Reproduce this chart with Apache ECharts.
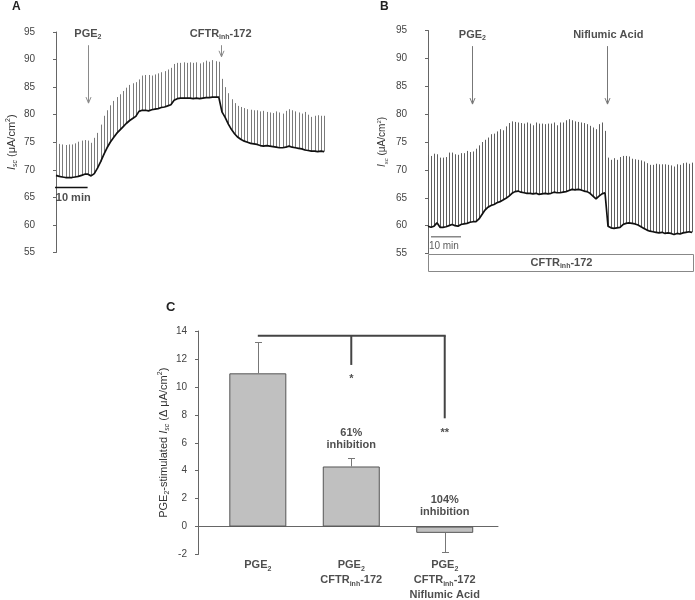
<!DOCTYPE html>
<html><head><meta charset="utf-8">
<script src="https://cdn.jsdelivr.net/npm/echarts@6/dist/echarts.min.js"></script>
<style>html,body{margin:0;padding:0;background:#fff}#c{width:695px;height:600px}</style>
</head><body><div id="c"></div>
<script>
// ---------- DATA ----------
// Panel A: Isc trace (uA/cm2), one entry per 1-min pulse
const baseA = [69.0, 68.8, 68.7, 68.6, 68.6, 68.6, 68.7, 68.8, 69.0, 69.2,
  69.2, 68.9, 69.3, 70.3, 71.5, 72.8, 74.0, 75.0, 75.8, 76.6,
  77.2, 77.8, 78.4, 78.9, 79.3, 79.7, 80.6, 80.8, 80.8, 80.7,
  80.9, 81.0, 81.1, 81.3, 81.4, 81.6, 81.8, 82.6, 82.9, 83.0,
  83.0, 83.0, 83.0, 82.9, 83.0, 82.9, 83.0, 83.1, 83.1, 83.2,
  83.2, 83.2, 80.5, 79.5, 78.3, 77.3, 76.5, 75.9, 75.5, 75.2,
  75.0, 74.8, 74.7, 74.6, 74.4, 74.3, 74.4, 74.3, 74.2, 74.1,
  74.0, 74.0, 74.1, 74.3, 74.1, 74.0, 73.9, 73.8, 73.6, 73.5,
  73.4, 73.4, 73.3, 73.4, 73.3];
const topsA = [75.0, 74.7, 74.6, 74.5, 74.6, 74.6, 74.8, 75.1, 75.3, 75.4,
  75.3, 74.9, 75.8, 76.7, 78.2, 79.8, 80.8, 81.7, 82.5, 83.2,
  83.7, 84.3, 84.9, 85.4, 85.7, 85.9, 86.4, 87.1, 87.2, 87.2,
  87.1, 87.3, 87.5, 87.7, 87.9, 88.2, 88.5, 89.2, 89.4, 89.4,
  89.5, 89.4, 89.5, 89.4, 89.5, 89.3, 89.5, 89.8, 89.6, 89.9,
  89.7, 89.6, 86.5, 85.0, 83.9, 82.8, 82.1, 81.6, 81.4, 81.2,
  81.0, 80.9, 80.8, 80.8, 80.6, 80.7, 80.5, 80.4, 80.3, 80.6,
  80.4, 80.2, 80.7, 81.0, 80.8, 80.6, 80.4, 80.2, 80.5, 80.0,
  79.6, 79.8, 79.9, 79.8, 79.8];
// Panel B
const baseB = [59.9, 59.7, 59.9, 60.5, 59.7, 59.7, 59.8, 60.0, 60.2, 60.0,
  59.9, 60.2, 60.3, 60.4, 60.6, 60.7, 60.7, 61.2, 62.0, 62.8,
  63.3, 63.6, 63.8, 64.1, 64.3, 64.6, 64.9, 65.3, 65.8, 66.1,
  66.2, 66.0, 65.9, 65.8, 65.8, 65.7, 65.8, 65.6, 65.7, 65.8,
  65.7, 65.8, 66.0, 65.9, 65.9, 66.0, 66.1, 66.3, 66.5, 66.4,
  66.5, 66.4, 66.2, 66.1, 65.8, 65.3, 64.8, 65.3, 65.7, 65.9,
  59.9, 59.6, 59.5, 59.6, 59.7, 60.2, 60.4, 60.5, 60.4, 60.3,
  60.1, 59.8, 59.5, 59.2, 59.0, 58.9, 58.8, 58.7, 58.8, 58.6,
  58.7, 58.6, 58.4, 58.6, 58.5, 58.7, 58.8, 58.9, 58.8];
const topsB = [72.7, 72.5, 72.9, 72.8, 72.2, 72.2, 72.3, 73.1, 73.1, 72.8,
  72.7, 73.0, 73.0, 73.4, 73.2, 73.3, 73.8, 74.4, 75.0, 75.4,
  75.8, 76.4, 76.5, 76.9, 77.3, 77.1, 77.8, 78.4, 78.7, 78.6,
  78.5, 78.4, 78.3, 78.5, 78.3, 78.0, 78.5, 78.3, 78.3, 78.2,
  78.3, 78.3, 78.5, 78.0, 78.5, 78.5, 78.9, 79.1, 78.9, 78.7,
  78.6, 78.5, 78.4, 78.2, 77.9, 77.6, 77.3, 78.2, 78.5, 77.0,
  72.2, 71.8, 72.1, 71.8, 72.3, 72.5, 72.5, 72.4, 72.0, 71.9,
  71.8, 71.7, 71.5, 71.2, 70.9, 70.9, 71.1, 71.0, 71.0, 71.0,
  70.9, 70.8, 70.6, 71.0, 70.9, 71.2, 71.3, 71.1, 71.3];
const yMinAB = 55, yMaxAB = 95, yStepAB = 5;
// Panel C
const categoriesC = ['{b|PGE}{s|2}',
  '{b|PGE}{s|2}\n{b|CFTR}{s|inh}{b|-172}',
  '{b|PGE}{s|2}\n{b|CFTR}{s|inh}{b|-172}\n{b|Niflumic Acid}'];
const meansC = [10.97, 4.3, -0.45];
const errorsC = [2.26, 0.58, 1.37];
const inhibitionC = [null, '61%', '104%'];
const starsC = [null, '*', '**'];
const yMinC = -2, yMaxC = 14, yStepC = 2;

// ---------- STYLE ----------
const FF = '"Liberation Sans", Arial, Helvetica, sans-serif';
const TXT = '#222';
const richBold = {
  b: {fontFamily: FF, fontSize: 11, fontWeight: 'bold', color: TXT, lineHeight: 14},
  s: {fontFamily: FF, fontSize: 7, fontWeight: 'bold', color: TXT, lineHeight: 8, verticalAlign: 'bottom'}
};
const richCat = {
  b: {fontFamily: FF, fontSize: 11, fontWeight: 'bold', color: TXT, lineHeight: 15},
  s: {fontFamily: FF, fontSize: 7, fontWeight: 'bold', color: TXT, lineHeight: 9, verticalAlign: 'bottom'}
};
const richInh = {
  b: {fontFamily: FF, fontSize: 11, fontWeight: 'bold', color: TXT, lineHeight: 12}
};
function richName(fs) {
  return {
    n: {fontFamily: FF, fontSize: fs, color: '#333', lineHeight: fs + 3},
    i: {fontFamily: FF, fontSize: fs, color: '#333', fontStyle: 'italic', lineHeight: fs + 3},
    sub: {fontFamily: FF, fontSize: fs - 4, color: '#333', fontStyle: 'italic', lineHeight: fs - 3, verticalAlign: 'bottom'},
    subn: {fontFamily: FF, fontSize: fs - 4, color: '#333', lineHeight: fs - 3, verticalAlign: 'bottom'},
    sup: {fontFamily: FF, fontSize: fs - 4, color: '#333', lineHeight: fs - 3, verticalAlign: 'top'}
  };
}

function spikeSeries(idx, base, tops, color) {
  return {
    type: 'custom', xAxisIndex: idx, yAxisIndex: idx, z: 2, silent: true,
    data: tops.map((v, i) => [i, base[i], v]),
    renderItem: (p, api) => {
      const a = api.coord([api.value(0), api.value(1)]);
      const b = api.coord([api.value(0), api.value(2)]);
      const x = Math.round(a[0]) + 0.5;
      return {type: 'line', shape: {x1: x, y1: a[1], x2: x, y2: b[1]}, style: {stroke: color, lineWidth: 1}};
    }
  };
}
function baseSeries(idx, base) {
  return {
    type: 'line', xAxisIndex: idx, yAxisIndex: idx, z: 3, silent: true,
    data: base.map((v, i) => [i, v]), symbol: 'none',
    lineStyle: {color: '#111', width: 1.7}
  };
}
function arrowSeries(idx, items, color) {
  return {
    type: 'custom', xAxisIndex: idx, yAxisIndex: idx, z: 4, silent: true, clip: false,
    data: items,
    renderItem: (p, api) => {
      const a = api.coord([api.value(0), api.value(1)]);
      const b = api.coord([api.value(0), api.value(2)]);
      const x = Math.round(a[0]) + 0.5;
      return {type: 'group', children: [
        {type: 'line', shape: {x1: x, y1: a[1], x2: x, y2: b[1]}, style: {stroke: color, lineWidth: 1}},
        {type: 'polyline', shape: {points: [[x - 2.5, b[1] - 6], [x, b[1]], [x + 2.5, b[1] - 6]]}, style: {stroke: color, lineWidth: 1, fill: null}}
      ]};
    }
  };
}
function hlineSeries(idx, items, color, w) {
  return {
    type: 'custom', xAxisIndex: idx, yAxisIndex: idx, z: 4, silent: true, clip: false,
    data: items,
    renderItem: (p, api) => {
      const a = api.coord([api.value(0), api.value(2)]);
      const b = api.coord([api.value(1), api.value(2)]);
      return {type: 'line', shape: {x1: a[0], y1: a[1], x2: b[0], y2: b[1]}, style: {stroke: color, lineWidth: w}};
    }
  };
}
function textSeries(idx, items, rich) {
  return {
    type: 'scatter', xAxisIndex: idx, yAxisIndex: idx, z: 6, silent: true, clip: false,
    symbolSize: 0, itemStyle: {color: 'transparent'},
    data: items.map(it => ({
      value: [it.x, it.y],
      label: {show: true, position: it.pos || 'inside', distance: it.dist || 0,
        formatter: it.text, rich: it.rich || rich, color: TXT, fontFamily: FF, align: 'center'}
    }))
  };
}
function yAxisAB(idx, name, fs, gap) {
  return {
    gridIndex: idx, type: 'value', min: yMinAB, max: yMaxAB, interval: yStepAB,
    axisLine: {show: true, lineStyle: {color: '#666', width: 1}},
    axisTick: {show: true, length: 3, lineStyle: {color: '#666'}},
    axisLabel: {fontSize: 10, color: '#444', margin: 6, fontFamily: FF},
    splitLine: {show: false},
    name: name, nameLocation: 'middle', nameGap: gap, nameRotate: 90,
    nameTextStyle: {rich: richName(fs)}
  };
}
const hiddenX = (idx, min, max) => ({gridIndex: idx, type: 'value', min: min, max: max,
  axisLine: {show: false}, axisTick: {show: false}, axisLabel: {show: false}, splitLine: {show: false}});

const catX = meansC.map((v, i) => i + 1);

const option = {
  animation: false,
  backgroundColor: '#fff',
  title: [
    {text: 'A', left: 12, top: 1, padding: 0, textStyle: {fontSize: 12, fontWeight: 'bold', color: TXT, fontFamily: FF}},
    {text: 'B', left: 380, top: 1, padding: 0, textStyle: {fontSize: 12, fontWeight: 'bold', color: TXT, fontFamily: FF}},
    {text: 'C', left: 166, top: 301, padding: 0, textStyle: {fontSize: 13, fontWeight: 'bold', color: TXT, fontFamily: FF}}
  ],
  grid: [
    {left: 41, top: 32, width: 300, height: 220.5},
    {left: 413, top: 30.5, width: 282, height: 223},
    {left: 198, top: 331, width: 300, height: 223.5}
  ],
  xAxis: [
    hiddenX(0, -4.7, 89.3),
    hiddenX(1, -5, 89),
    {gridIndex: 2, type: 'value', min: 0.36, max: 3.57,
      axisLine: {show: true, onZero: true, lineStyle: {color: '#666', width: 1}},
      axisTick: {show: false}, axisLabel: {show: false}, splitLine: {show: false}}
  ],
  yAxis: [
    yAxisAB(0, '{i|I}{sub|sc}{n| (μA/cm}{sup|2}{n|)}', 11, 22),
    yAxisAB(1, '{i|I}{sub|sc}{n| (μA/cm}{sup|2}{n|)}', 10, 24),
    {gridIndex: 2, type: 'value', min: yMinC, max: yMaxC, interval: yStepC,
      axisLine: {show: true, onZero: false, lineStyle: {color: '#666', width: 1}},
      axisTick: {show: true, length: 3, lineStyle: {color: '#666'}},
      axisLabel: {fontSize: 10, color: '#444', margin: 11, fontFamily: FF},
      splitLine: {show: false},
      name: '{n|PGE}{subn|2}{n|-stimulated }{i|I}{sub|sc}{n| (Δ μA/cm}{sup|2}{n|)}',
      nameLocation: 'middle', nameGap: 27, nameRotate: 90,
      nameTextStyle: {rich: richName(11)}}
  ],
  series: [
    spikeSeries(0, baseA, topsA, '#7a7a7a'),
    baseSeries(0, baseA),
    spikeSeries(1, baseB, topsB, '#5e5e5e'),
    baseSeries(1, baseB),
    arrowSeries(0, [[10.0, 92.6, 82.1], [51.7, 92.6, 90.5]], '#8a8a8a'),
    arrowSeries(1, [[14.7, 92.2, 81.8], [59.7, 92.2, 81.8]], '#777'),
    textSeries(0, [
      {x: 10.0, y: 94.7, text: '{b|PGE}{s|2}'},
      {x: 51.6, y: 94.7, text: '{b|CFTR}{s|inh}{b|-172}'},
      {x: 5.4, y: 64.9, text: '{b|10 min}'}
    ], richBold),
    textSeries(1, [
      {x: 14.8, y: 94.2, text: '{b|PGE}{s|2}'},
      {x: 60.1, y: 94.2, text: '{b|Niflumic Acid}'},
      {x: 5.3, y: 56.3, text: '{n|10 min}', rich: {n: {fontFamily: FF, fontSize: 10, color: '#333'}}},
      {x: 44.5, y: 53.35, text: '{b|CFTR}{s|inh}{b|-172}'}
    ], richBold),
    hlineSeries(0, [[-0.3, 9.9, 66.8]], '#111', 1.5),
    hlineSeries(1, [[1, 11, 58.0]], '#888', 1.5),
    {
      type: 'custom', xAxisIndex: 1, yAxisIndex: 1, z: 1, silent: true, clip: false,
      data: [[0, 88.3, 54.87, 51.8]],
      renderItem: (p, api) => {
        const a = api.coord([api.value(0), api.value(2)]);
        const b = api.coord([api.value(1), api.value(3)]);
        return {type: 'rect', shape: {x: Math.round(a[0]) + 0.5, y: Math.round(a[1]) + 0.5,
          width: Math.round(b[0] - a[0]), height: Math.round(b[1] - a[1])},
          style: {fill: '#fff', stroke: '#888', lineWidth: 1}};
      }
    },
    // Panel C bars
    {
      type: 'bar', xAxisIndex: 2, yAxisIndex: 2, barWidth: 57, z: 2, silent: true,
      data: meansC.map((v, i) => [catX[i], v]),
      itemStyle: {color: '#c0c0c0', borderColor: '#555', borderWidth: 1}
    },
    {
      type: 'custom', xAxisIndex: 2, yAxisIndex: 2, z: 3, silent: true,
      data: meansC.map((v, i) => [catX[i], v, errorsC[i]]),
      renderItem: (p, api) => {
        const m = api.value(1), e = api.value(2);
        const end = m >= 0 ? m + e : m - e;
        const a = api.coord([api.value(0), m]);
        const b = api.coord([api.value(0), end]);
        const x = Math.round(a[0]) + 0.5;
        const yb = Math.round(b[1]) + 0.5;
        return {type: 'group', children: [
          {type: 'line', shape: {x1: x, y1: a[1], x2: x, y2: yb}, style: {stroke: '#777', lineWidth: 1}},
          {type: 'line', shape: {x1: x - 3.5, y1: yb, x2: x + 3.5, y2: yb}, style: {stroke: '#777', lineWidth: 1}}
        ]};
      }
    },
    // significance bracket
    {
      type: 'custom', xAxisIndex: 2, yAxisIndex: 2, z: 4, silent: true,
      data: [[1, 3, 13.66, 11.57, 7.75]],
      renderItem: (p, api) => {
        const l = api.coord([api.value(0), api.value(2)]);
        const r = api.coord([api.value(1), api.value(2)]);
        const m = api.coord([(api.value(0) + api.value(1)) / 2, api.value(3)]);
        const e = api.coord([api.value(1), api.value(4)]);
        const st = {stroke: '#444', lineWidth: 2};
        return {type: 'group', children: [
          {type: 'line', shape: {x1: l[0], y1: l[1], x2: r[0] + 1, y2: r[1]}, style: st},
          {type: 'line', shape: {x1: m[0], y1: l[1], x2: m[0], y2: m[1]}, style: st},
          {type: 'line', shape: {x1: r[0], y1: l[1], x2: r[0], y2: e[1]}, style: st}
        ]};
      }
    },
    textSeries(2, [
      {x: catX[1], y: 10.55, text: '{b|' + starsC[1] + '}'},
      {x: catX[2], y: 6.69, text: '{b|' + starsC[2] + '}'},
      {x: catX[1], y: 6.27, text: '{b|' + inhibitionC[1] + '}\n{b|inhibition}', rich: richInh},
      {x: catX[2], y: 1.48, text: '{b|' + inhibitionC[2] + '}\n{b|inhibition}', rich: richInh}
    ], richBold),
    textSeries(2, categoriesC.map((c, i) => ({x: catX[i], y: yMinC, text: c, pos: 'bottom', dist: 3})), richCat)
  ]
};
const chart = echarts.init(document.getElementById('c'), null, {renderer: 'canvas'});
chart.setOption(option);
</script>
</body></html>
